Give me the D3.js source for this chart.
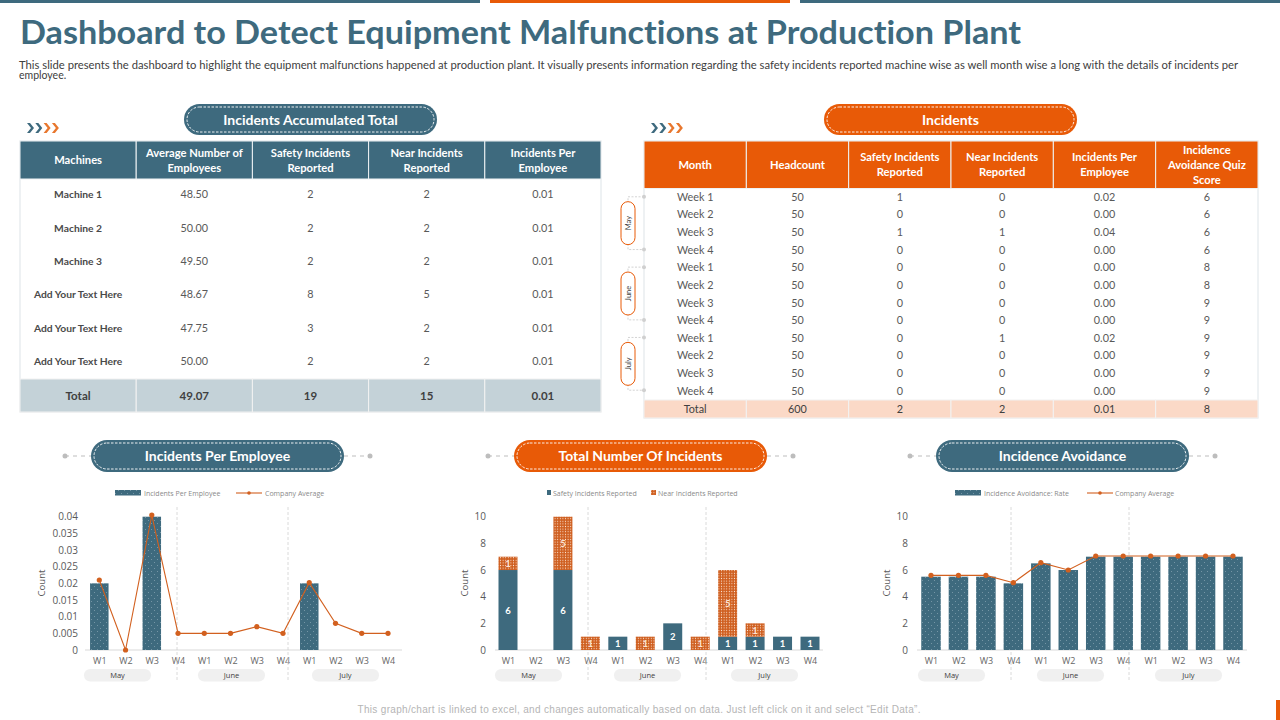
<!DOCTYPE html>
<html>
<head>
<meta charset="utf-8">
<script src="https://cdnjs.cloudflare.com/ajax/libs/d3/7.8.5/d3.min.js"></script>
<style>
  html, body { margin: 0; padding: 0; background: #fff; }
  svg { display: block; }
  text { font-family: Lato, "Noto Sans", sans-serif; font-variant-ligatures: none; }
</style>
</head>
<body>
<script>
var teal = "#3e6a7e";
var orange = "#e85a07";
var lineOrange = "#d2601f";

// left table
var machineCols = ["Machines", "Average Number of\nEmployees", "Safety Incidents\nReported", "Near Incidents\nReported", "Incidents Per\nEmployee"];
var machineRows = [
  ["Machine 1", "48.50", "2", "2", "0.01"],
  ["Machine 2", "50.00", "2", "2", "0.01"],
  ["Machine 3", "49.50", "2", "2", "0.01"],
  ["Add Your Text Here", "48.67", "8", "5", "0.01"],
  ["Add Your Text Here", "47.75", "3", "2", "0.01"],
  ["Add Your Text Here", "50.00", "2", "2", "0.01"]
];
var machineTotal = ["Total", "49.07", "19", "15", "0.01"];

// right table
var weekCols = ["Month", "Headcount", "Safety Incidents\nReported", "Near Incidents\nReported", "Incidents Per\nEmployee", "Incidence\nAvoidance Quiz\nScore"];
var weekRows = [
  ["Week 1", "50", "1", "0", "0.02", "6"],
  ["Week 2", "50", "0", "0", "0.00", "6"],
  ["Week 3", "50", "1", "1", "0.04", "6"],
  ["Week 4", "50", "0", "0", "0.00", "6"],
  ["Week 1", "50", "0", "0", "0.00", "8"],
  ["Week 2", "50", "0", "0", "0.00", "8"],
  ["Week 3", "50", "0", "0", "0.00", "9"],
  ["Week 4", "50", "0", "0", "0.00", "9"],
  ["Week 1", "50", "0", "1", "0.02", "9"],
  ["Week 2", "50", "0", "0", "0.00", "9"],
  ["Week 3", "50", "0", "0", "0.00", "9"],
  ["Week 4", "50", "0", "0", "0.00", "9"]
];
var weekTotal = ["Total", "600", "2", "2", "0.01", "8"];

// charts
var months = ["May", "June", "July"];
var weeks = ["W1", "W2", "W3", "W4"];
var perEmployeeBars = [0.02, 0, 0.04, 0, 0, 0, 0, 0, 0.02, 0, 0, 0];
var perEmployeeAvg = [0.021, 0, 0.0405, 0.005, 0.005, 0.005, 0.007, 0.005, 0.0202, 0.008, 0.005, 0.005];
var perEmployeeTicks = [0, 0.005, 0.01, 0.015, 0.02, 0.025, 0.03, 0.035, 0.04];
var safetyCounts = [6, 0, 6, 0, 1, 0, 2, 0, 1, 1, 1, 1];
var nearCounts = [1, 0, 4, 1, 0, 1, 0, 1, 5, 1, 0, 0];
// the picture prints 5 on the May W3 bar although it is 4 tall
var nearLabels = [1, 0, 5, 1, 0, 1, 0, 1, 5, 1, 0, 0];
var avoidanceBars = [5.5, 5.5, 5.5, 5, 6.5, 6, 7, 7, 7, 7, 7, 7];
var avoidanceAvg = [5.6, 5.6, 5.6, 5.05, 6.55, 6, 7.05, 7.05, 7.05, 7.05, 7.05, 7.05];
var countTicks = [0, 2, 4, 6, 8, 10];

var svg = d3.select("body").append("svg").attr("width", 1280).attr("height", 720);

// patterns for the bar fills
var defs = svg.append("defs");
var dots = defs.append("pattern").attr("id", "tealDots").attr("width", 6).attr("height", 6).attr("patternUnits", "userSpaceOnUse");
dots.append("rect").attr("width", 6).attr("height", 6).attr("fill", teal);
dots.append("circle").attr("cx", 1.5).attr("cy", 1.5).attr("r", 0.4).attr("fill", "#b9cdd6");
dots.append("circle").attr("cx", 4.5).attr("cy", 4.5).attr("r", 0.4).attr("fill", "#b9cdd6");
var heavy = defs.append("pattern").attr("id", "orangeDots").attr("width", 2.6).attr("height", 2.6).attr("patternUnits", "userSpaceOnUse");
heavy.append("rect").attr("width", 2.6).attr("height", 2.6).attr("fill", "#cf5f20");
heavy.append("circle").attr("cx", 1.3).attr("cy", 1.3).attr("r", 0.55).attr("fill", "#fbe3d3");

// top strip
[[0, 480, teal], [490, 300, orange], [800, 480, teal]].forEach(function(b){
  svg.append("rect").attr("x", b[0]).attr("y", 0).attr("width", b[1]).attr("height", 3).attr("fill", b[2]);
});

svg.append("text").attr("x", 20).attr("y", 44)
   .attr("font-size", 33).attr("font-weight", 700).attr("fill", teal)
   .attr("textLength", 1001).attr("lengthAdjust", "spacingAndGlyphs")
   .text("Dashboard to Detect Equipment Malfunctions at Production Plant");

svg.append("text").attr("x", 19).attr("y", 68.5)
   .attr("font-size", 10.5).attr("fill", "#404040")
   .attr("textLength", 1219).attr("lengthAdjust", "spacingAndGlyphs")
   .text("This slide presents the dashboard to highlight the equipment malfunctions happened at production plant. It visually presents information regarding the safety incidents reported machine wise as well month wise a long with the details of incidents per");
svg.append("text").attr("x", 19).attr("y", 79)
   .attr("font-size", 10.5).attr("fill", "#404040")
   .text("employee.");

function pill(x, y, w, h, color, label, fs) {
  svg.append("rect").attr("x", x).attr("y", y).attr("width", w).attr("height", h)
     .attr("rx", h / 2).attr("fill", color);
  svg.append("rect").attr("x", x + 3).attr("y", y + 3).attr("width", w - 6).attr("height", h - 6)
     .attr("rx", (h - 6) / 2).attr("fill", "none").attr("stroke", "#fff")
     .attr("stroke-width", 0.9).attr("stroke-dasharray", "2.5 1.5");
  svg.append("text").attr("x", x + w / 2).attr("y", y + h / 2 + 5.2)
     .attr("text-anchor", "middle").attr("font-size", fs).attr("font-weight", 700)
     .attr("fill", "#fff").text(label);
}

function chevrons(x, y) {
  d3.range(4).forEach(function(i){
    var cx = x + i * 8.3;
    svg.append("path")
       .attr("d", "M" + cx + "," + (y - 5) + "h3l4,5l-4,5h-3l4,-5Z")
       .attr("fill", i < 2 ? teal : "#e8772e");
  });
}

function table(cfg) {
  var x = d3.scaleBand().domain(d3.range(cfg.cols.length)).range([cfg.left, cfg.right]);
  var y = d3.scaleBand().domain(d3.range(cfg.rows.length)).range([cfg.bodyTop, cfg.bodyBottom]);
  var g = svg.append("g");

  g.append("rect").attr("x", cfg.left).attr("y", cfg.top).attr("width", cfg.right - cfg.left)
   .attr("height", cfg.totalBottom - cfg.top).attr("fill", "#fff").attr("stroke", "#dde4e8");

  g.selectAll(".head").data(cfg.cols).enter().append("rect").attr("class", "head")
   .attr("x", function(d, i){ return x(i); }).attr("y", cfg.top)
   .attr("width", x.bandwidth()).attr("height", cfg.bodyTop - cfg.top)
   .attr("fill", cfg.color).attr("stroke", "#eef2f4").attr("stroke-width", 1);

  g.selectAll(".headText").data(cfg.cols).enter().append("text").attr("class", "headText")
   .attr("text-anchor", "middle").attr("font-size", 11.2).attr("font-weight", 700).attr("fill", "#fff")
   .attr("transform", function(d, i){ return "translate(" + (x(i) + x.bandwidth() / 2) + "," + ((cfg.top + cfg.bodyTop) / 2) + ")"; })
   .each(function(d){
     var lines = d.split("\n");
     var el = d3.select(this);
     lines.forEach(function(l, k){
       el.append("tspan").attr("x", 0).attr("y", 4 + (k - (lines.length - 1) / 2) * 15).text(l);
     });
   });

  cfg.rows.forEach(function(row, r){
    g.selectAll(".c" + r).data(row).enter().append("text")
     .attr("x", function(d, i){ return x(i) + x.bandwidth() / 2; })
     .attr("y", y(r) + y.bandwidth() / 2 + cfg.rowShift + 3.5)
     .attr("text-anchor", "middle")
     .attr("font-size", function(d, i){ return cfg.boldFirst && i === 0 ? 10.3 : 10.8; })
     .attr("font-weight", function(d, i){ return cfg.boldFirst && i === 0 ? 700 : 400; })
     .attr("fill", function(d, i){ return cfg.boldFirst && i === 0 ? "#4a4a4a" : "#595959"; })
     .text(function(d){ return d; });
  });

  g.selectAll(".tot").data(cfg.total).enter().append("rect").attr("class", "tot")
   .attr("x", function(d, i){ return x(i); }).attr("y", cfg.bodyBottom)
   .attr("width", x.bandwidth()).attr("height", cfg.totalBottom - cfg.bodyBottom)
   .attr("fill", cfg.totalFill).attr("stroke", "#f2f2f2");
  g.selectAll(".totText").data(cfg.total).enter().append("text").attr("class", "totText")
   .attr("x", function(d, i){ return x(i) + x.bandwidth() / 2; })
   .attr("y", (cfg.bodyBottom + cfg.totalBottom) / 2 + 4)
   .attr("text-anchor", "middle").attr("font-size", cfg.totalSize).attr("font-weight", cfg.totalWeight)
   .attr("fill", "#404040").text(function(d){ return d; });
}

pill(184, 104, 253, 31, teal, "Incidents Accumulated Total", 14);
pill(824, 104, 253, 31, orange, "Incidents", 14);
chevrons(27, 128);
chevrons(651, 128);

table({ cols: machineCols, rows: machineRows, total: machineTotal, color: teal, totalFill: "#c4d2d8",
        left: 20, right: 601, top: 141, bodyTop: 179, bodyBottom: 379, totalBottom: 412,
        rowShift: -1, boldFirst: true, totalSize: 11.5, totalWeight: 700 });
table({ cols: weekCols, rows: weekRows, total: weekTotal, color: orange, totalFill: "#fbd9c7",
        left: 644, right: 1258, top: 141, bodyTop: 188.5, bodyBottom: 400, totalBottom: 418,
        rowShift: 0, boldFirst: false, totalSize: 10.8, totalWeight: 400 });

// month brackets beside the right table
var weekY = d3.scaleBand().domain(d3.range(weekRows.length)).range([189, 400]);
months.forEach(function(m, i){
  var y0 = weekY(i * 4) + weekY.bandwidth() / 2 - 1;
  var y1 = weekY(i * 4 + 3) + weekY.bandwidth() / 2 - 1;
  var mid = (y0 + y1) / 2;
  svg.append("path").attr("d", "M644," + y0 + "H628V" + y1 + "H644")
     .attr("fill", "none").attr("stroke", "#c8c8c8").attr("stroke-width", 0.8).attr("stroke-dasharray", "2 1.5");
  [y0, y1].forEach(function(v){
    svg.append("circle").attr("cx", 644).attr("cy", v).attr("r", 2).attr("fill", "#d0d0d0");
  });
  svg.append("rect").attr("x", 621).attr("y", mid - 21.5).attr("width", 14).attr("height", 43).attr("rx", 7)
     .attr("fill", "#fff").attr("stroke", orange).attr("stroke-width", 1);
  svg.append("text").attr("transform", "translate(631," + mid + ") rotate(-90)")
     .attr("text-anchor", "middle").attr("font-size", 7.5).attr("fill", "#404040").text(m);
});

// section pill for a chart with the dashes and dots either side
function chartTitle(x, color, label) {
  [[x - 26, x], [x + 253, x + 279]].forEach(function(s){
    svg.append("line").attr("x1", s[0]).attr("x2", s[1]).attr("y1", 456).attr("y2", 456)
       .attr("stroke", "#bdbdbd").attr("stroke-dasharray", "4 4");
  });
  svg.append("circle").attr("cx", x - 26).attr("cy", 456).attr("r", 2.5).attr("fill", "#bdbdbd");
  svg.append("circle").attr("cx", x + 279).attr("cy", 456).attr("r", 2.5).attr("fill", "#bdbdbd");
  pill(x, 440, 253, 32, color, label, 14);
}

// common frame: axes, dividers and month pills
function chartFrame(cfg) {
  var labels = [];
  months.forEach(function(){ labels = labels.concat(weeks); });
  var ids = d3.range(labels.length);
  var x = d3.scalePoint().domain(ids).range([cfg.first, cfg.last]);
  var y = d3.scaleLinear().domain(cfg.domain).range([650, 516.7]);
  var g = svg.append("g");

  var yAxis = d3.axisLeft(y).tickValues(cfg.ticks).tickSize(0).tickPadding(0)
                .tickFormat(function(d){ return String(d); });
  var ya = g.append("g").attr("transform", "translate(" + cfg.tickX + ",0)").call(yAxis);
  ya.select(".domain").remove();
  ya.selectAll("text").attr("font-size", 10).attr("fill", "#595959").style("font-family", "'Open Sans'");

  var xAxis = d3.axisBottom(x).tickSize(0).tickPadding(8).tickFormat(function(d){ return labels[d]; });
  var xa = g.append("g").attr("transform", "translate(0,650)").call(xAxis);
  xa.select(".domain").remove();
  xa.selectAll("text").attr("font-size", 9).attr("fill", "#666").style("font-family", "'Open Sans'");

  g.append("line").attr("x1", cfg.axisL).attr("x2", cfg.axisR).attr("y1", 650).attr("y2", 650)
   .attr("stroke", "#d9d9d9");

  g.append("text").attr("transform", "translate(" + cfg.countX + ",583) rotate(-90)")
   .attr("text-anchor", "middle").attr("font-size", 9.5).attr("fill", "#595959")
   .style("font-family", "'Open Sans'").text("Count");

  cfg.dividers.forEach(function(d){
    g.append("line").attr("x1", d).attr("x2", d).attr("y1", 507).attr("y2", 680)
     .attr("stroke", "#d0d0d0").attr("stroke-width", 0.8).attr("stroke-dasharray", "3 2");
  });

  months.forEach(function(m, i){
    var px = cfg.pills[i];
    g.append("rect").attr("x", px).attr("y", 669).attr("width", 67).attr("height", 12.5).attr("rx", 6.2)
     .attr("fill", "#f0f0f0");
    g.append("text").attr("x", px + 33.5).attr("y", 678).attr("text-anchor", "middle")
     .attr("font-size", 7.5).attr("fill", "#404040").style("font-family", "'Open Sans'").text(m);
  });
  return { x: x, y: y, g: g };
}

function drawBars(f, values, width, fill) {
  f.g.append("g").selectAll("rect").data(values).enter().append("rect")
   .attr("x", function(d, i){ return f.x(i) - width / 2; })
   .attr("y", function(d){ return f.y(d); })
   .attr("width", width)
   .attr("height", function(d){ return 650 - f.y(d); })
   .attr("fill", fill);
}

function drawLine(f, values) {
  var line = d3.line().x(function(d, i){ return f.x(i); }).y(function(d){ return f.y(d); });
  f.g.append("path").datum(values).attr("d", line).attr("fill", "none")
   .attr("stroke", lineOrange).attr("stroke-width", 1.1);
  f.g.append("g").selectAll("circle").data(values).enter().append("circle")
   .attr("cx", function(d, i){ return f.x(i); })
   .attr("cy", function(d){ return f.y(d); })
   .attr("r", 2.6).attr("fill", lineOrange);
}

function legendText(x, label) {
  svg.append("text").attr("x", x).attr("y", 496).attr("font-size", 7)
     .attr("fill", "#8a8a8a").style("font-family", "'Open Sans'").text(label);
}
function legendBar(x) {
  svg.append("rect").attr("x", x).attr("y", 490).attr("width", 26).attr("height", 5.5).attr("fill", "url(#tealDots)");
}
function legendLine(x) {
  svg.append("line").attr("x1", x).attr("x2", x + 26).attr("y1", 493).attr("y2", 493)
     .attr("stroke", lineOrange).attr("stroke-width", 1.1);
  svg.append("circle").attr("cx", x + 13).attr("cy", 493).attr("r", 1.8).attr("fill", lineOrange);
}

// Incidents Per Employee
chartTitle(91, teal, "Incidents Per Employee");
legendBar(115); legendText(144, "Incidents Per Employee");
legendLine(236); legendText(265, "Company Average");
var f1 = chartFrame({ first: 99.3, last: 388, domain: [0, 0.04], ticks: perEmployeeTicks, tickX: 78,
                      axisL: 85, axisR: 402, countX: 45, dividers: [177, 288], pills: [84, 198, 312] });
drawBars(f1, perEmployeeBars, 18.5, "url(#tealDots)");
drawLine(f1, perEmployeeAvg);

// Total Number Of Incidents
chartTitle(514, orange, "Total Number Of Incidents");
svg.append("rect").attr("x", 547).attr("y", 490).attr("width", 4).attr("height", 5).attr("fill", teal);
legendText(553, "Safety Incidents Reported");
svg.append("rect").attr("x", 651).attr("y", 490).attr("width", 5).attr("height", 5).attr("fill", "url(#orangeDots)");
legendText(658, "Near Incidents Reported");
var f2 = chartFrame({ first: 508, last: 810, domain: [0, 10], ticks: countTicks, tickX: 486,
                      axisL: 495, axisR: 823, countX: 468, dividers: [588, 706], pills: [495, 614, 731] });
drawBars(f2, safetyCounts, 19, teal);
f2.g.append("g").selectAll("rect").data(nearCounts).enter().append("rect")
  .attr("x", function(d, i){ return f2.x(i) - 9.5; })
  .attr("y", function(d, i){ return f2.y(safetyCounts[i] + d); })
  .attr("width", 19)
  .attr("height", function(d){ return 650 - f2.y(d); })
  .attr("fill", "url(#orangeDots)");
f2.g.append("g").selectAll("text").data(safetyCounts.map(function(d, i){ return { v: d, i: i }; }).filter(function(d){ return d.v > 0; }))
  .enter().append("text")
  .attr("x", function(d){ return f2.x(d.i); })
  .attr("y", function(d){ return f2.y(d.v / 2) + 3.5; })
  .attr("text-anchor", "middle").attr("font-size", 9.5).attr("font-weight", 700).attr("fill", "#fff")
  .text(function(d){ return d.v; });
f2.g.append("g").selectAll("text").data(nearCounts.map(function(d, i){ return { v: d, label: nearLabels[i], i: i }; }).filter(function(d){ return d.v > 0; }))
  .enter().append("text")
  .attr("x", function(d){ return f2.x(d.i); })
  .attr("y", function(d){ return f2.y(safetyCounts[d.i] + d.v / 2) + 3.5; })
  .attr("text-anchor", "middle").attr("font-size", 9.5).attr("font-weight", 700).attr("fill", "#fbe3d3")
  .text(function(d){ return d.label; });

// Incidence Avoidance
chartTitle(936, teal, "Incidence Avoidance");
legendBar(955); legendText(984, "Incidence Avoidance: Rate");
legendLine(1087); legendText(1115, "Company Average");
var f3 = chartFrame({ first: 931, last: 1233, domain: [0, 10], ticks: countTicks, tickX: 908,
                      axisL: 917, axisR: 1247, countX: 890, dividers: [1011, 1129], pills: [918, 1037, 1155] });
drawBars(f3, avoidanceBars, 19.5, "url(#tealDots)");
drawLine(f3, avoidanceAvg);

// footer note and corner block
svg.append("text").attr("x", 639).attr("y", 712.5).attr("text-anchor", "middle")
   .attr("font-size", 10).attr("fill", "#b5b5b5").style("font-family", "'Liberation Sans'")
   .attr("textLength", 563).attr("lengthAdjust", "spacing")
   .text("This graph/chart is linked to excel, and changes automatically based on data. Just left click on it and select “Edit Data”.");
svg.append("rect").attr("x", 1276).attr("y", 700).attr("width", 4).attr("height", 20).attr("fill", orange);
</script>
</body>
</html>
